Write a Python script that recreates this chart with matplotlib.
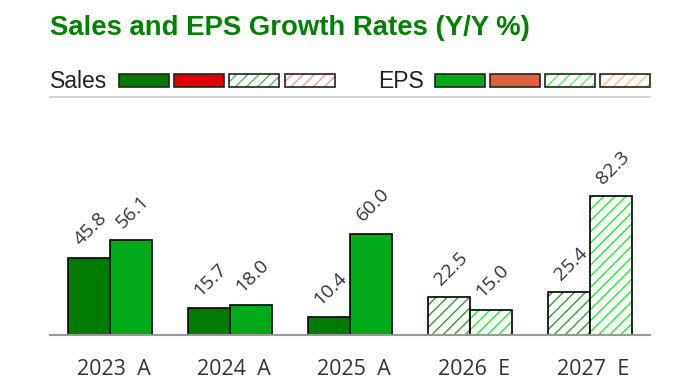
import numpy as np
import matplotlib.pyplot as plt
from matplotlib.patches import Rectangle

years = ['2023  A', '2024  A', '2025  A', '2026  E', '2027  E']
sales_growth = [45.8, 15.7, 10.4, 22.5, 25.4]
eps_growth = [56.1, 18.0, 60.0, 15.0, 82.3]
is_estimate = [False, False, False, True, True]

SALES_GREEN = '#007a00'
EPS_GREEN = '#00aa1a'
SALES_HATCH = '#3c963c'
EPS_HATCH = '#22ee33'
TEXT = '#333333'

fig = plt.figure(figsize=(7, 3.87), dpi=100)
plt.rcParams['hatch.linewidth'] = 1.0

# main bar area
ax = fig.add_axes([50 / 700, 52 / 387, 600 / 700, 169 / 387])
x = np.arange(len(years))
w = 0.35

for i in range(len(years)):
    for val, off, solid, hcol in [(sales_growth[i], -w / 2, SALES_GREEN, SALES_HATCH),
                                  (eps_growth[i], w / 2, EPS_GREEN, EPS_HATCH)]:
        if is_estimate[i]:
            ax.bar(x[i] + off, val, w, color='white', edgecolor=hcol, hatch='///', linewidth=0)
            ax.bar(x[i] + off, val, w, fill=False, edgecolor='black', linewidth=1.2)
        else:
            ax.bar(x[i] + off, val, w, color=solid, edgecolor='black', linewidth=1.2)
        ax.annotate(f'{val:.1f}', (x[i] + off, val), xytext=(-4, 6), textcoords='offset points',
                    rotation=45, rotation_mode='anchor', ha='left', va='bottom',
                    fontsize=14, color=TEXT, family='Open Sans')

ax.set_xlim(-0.5, 4.5)
ax.set_ylim(0, 100)
for s in ['top', 'right', 'left']:
    ax.spines[s].set_visible(False)
ax.spines['bottom'].set_color('#999999')
ax.spines['bottom'].set_linewidth(1.5)
ax.set_yticks([])
ax.set_xticks(x + 0.03)
ax.set_xticklabels(years, fontsize=15.5, color=TEXT, family='Open Sans')
ax.tick_params(axis='x', length=0, pad=17)

# title and legend drawn in pixel coordinates
lg = fig.add_axes([0, 0, 1, 1], zorder=-1)
lg.set_xlim(0, 700)
lg.set_ylim(387, 0)
lg.axis('off')
lg.text(50, 28, 'Sales and EPS Growth Rates (Y/Y %)', fontsize=19.8, fontweight='bold',
        color='#008000', family='Liberation Sans', va='center', ha='left')

lg.text(50, 81, 'Sales', fontsize=16.5, color='#222222', family='Liberation Sans', va='center')
lg.text(378, 81, 'EPS', fontsize=16.5, color='#222222', family='Liberation Sans', va='center')

swatches = [(119, SALES_GREEN, None, None), (174, '#e00000', None, None),
            (229, 'white', '#5cb85c', '///'), (285, 'white', '#e8a0a0', '///'),
            (435, EPS_GREEN, None, None), (490, '#e06040', None, None),
            (545, 'white', '#66ee66', '///'), (600, 'white', '#ffc080', '///')]
for sx, fc, hc, hatch in swatches:
    if hatch:
        lg.add_patch(Rectangle((sx, 74), 50, 13, facecolor=fc, edgecolor=hc, hatch=hatch, linewidth=0))
        lg.add_patch(Rectangle((sx, 74), 50, 13, fill=False, edgecolor='#222222', linewidth=1.2))
    else:
        lg.add_patch(Rectangle((sx, 74), 50, 13, facecolor=fc, edgecolor='#222222', linewidth=1.2))

lg.plot([50, 650], [97, 97], color='#cccccc', linewidth=1.2)

fig.savefig('out.png', dpi=100)
